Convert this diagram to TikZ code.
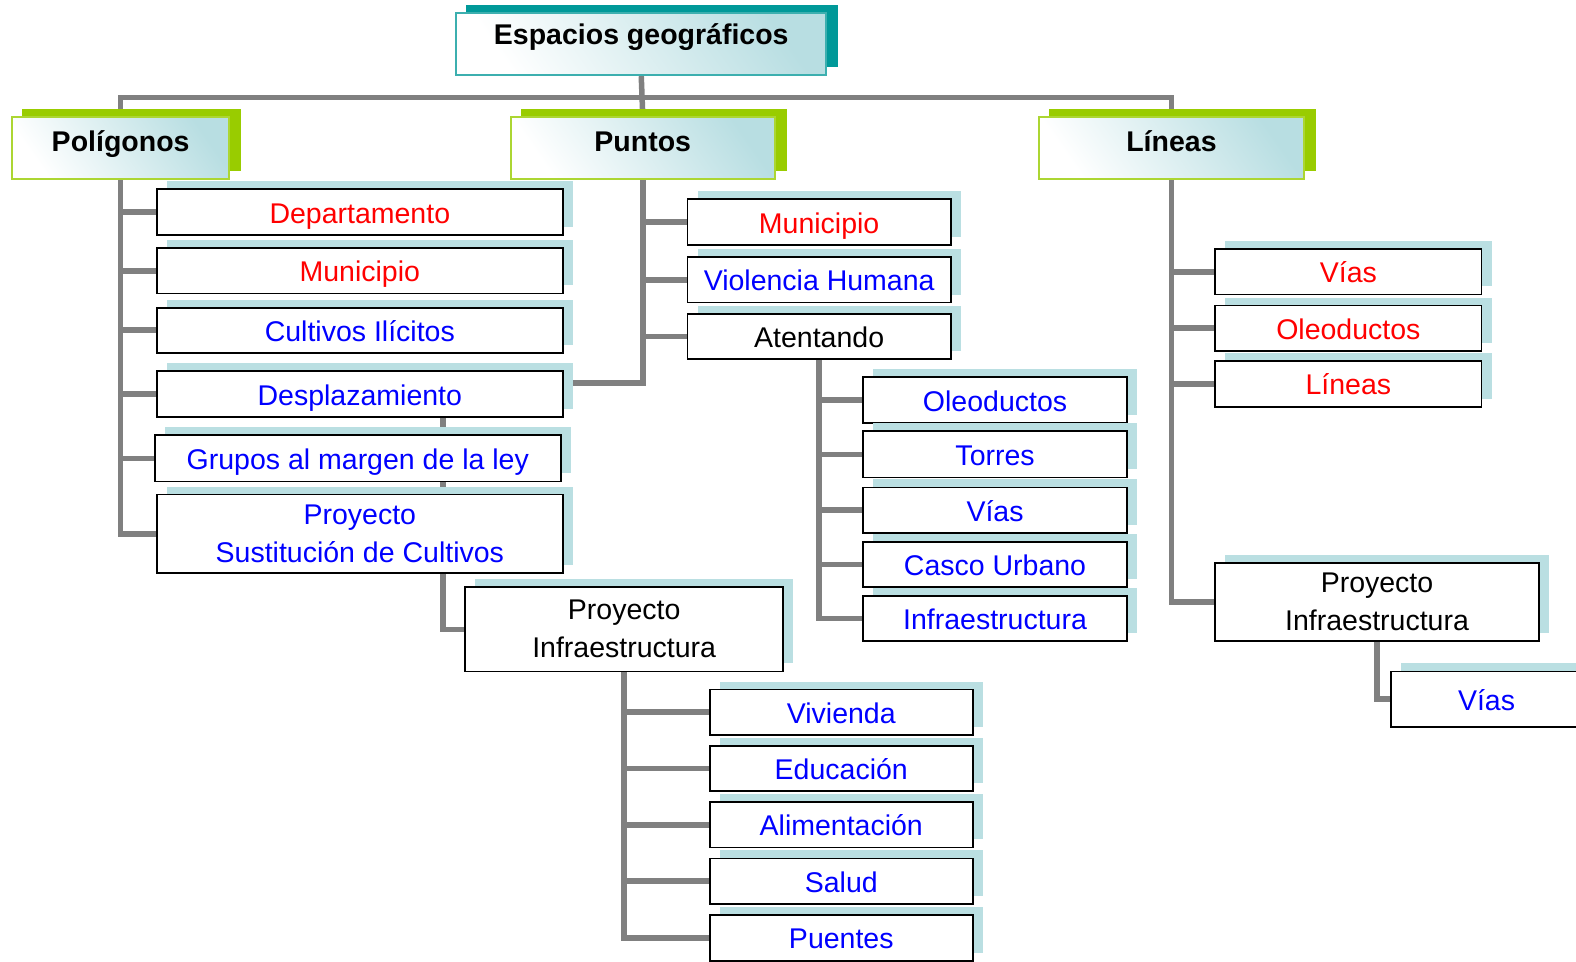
\documentclass[tikz,border=0pt]{standalone}
\usepackage{fontspec}
\setmainfont{Liberation Sans}
\usetikzlibrary{calc}
\definecolor{shadowcol}{RGB}{186,223,226}
\definecolor{conncol}{RGB}{128,128,128}
\definecolor{hgreen}{RGB}{153,204,0}
\definecolor{hgreenb}{RGB}{172,214,50}
\definecolor{tealsh}{RGB}{0,153,153}
\definecolor{tealb}{RGB}{60,175,175}
\definecolor{gradc}{RGB}{184,222,226}
\definecolor{tred}{RGB}{255,0,0}
\definecolor{tblue}{RGB}{0,0,255}
\pgfdeclarelayer{background}
\pgfsetlayers{background,main}
\tikzset{
  conn/.style={draw=conncol, line width=5.5pt},
  wbox/.style={draw=black, line width=1.8pt, fill=white, inner sep=0pt, font=\fontsize{28.5}{38}\selectfont},
  oneline/.style={text height=22pt, text depth=0pt},
  twoline/.style={align=center},
  rtxt/.style={oneline, text=tred},
  btxt/.style={oneline, text=tblue},
  hdr/.style={draw=hgreenb, line width=2pt, inner sep=0pt, top color=gradc, bottom color=white, shading angle=-55, font=\fontsize{28.5}{34}\selectfont\bfseries, text height=20pt, text depth=12pt},
}
\newcommand\wb[7]{%
  \fill[shadowcol] (#2+10,#3-8) rectangle (#4+10,#5-8);
  \node[wbox,#6,minimum width={(#4-#2)*1.0051pt},minimum height={(#5-#3)*1.0052pt}] (#1) at ({(#2+#4)/2},{(#3+#5)/2}) {#7};}
\newcommand\hb[8]{%
  \fill[#6] (#2+10,#3-8) rectangle (#4+12,#5-8);
  \node[hdr,#7,minimum width={(#4-#2)*1.0051pt},minimum height={(#5-#3)*1.0052pt}] (#1) at ({(#2+#4)/2},{(#3+#5)/2}) {#8};}
\begin{document}
\begin{tikzpicture}[x=1.0051pt,y=-1.0052pt]
\useasboundingbox (0,0) rectangle (1568,957);
\clip (0,0) rectangle (1568,957);
% headers
\hb{esp}{454}{13}{822}{75}{tealsh}{draw=tealb,text height=14pt,text depth=14pt}{Espacios geográficos}
\hb{pol}{12}{116}{228}{178}{hgreen}{}{Polígonos}
\hb{pun}{508}{116}{771}{178}{hgreen}{}{Puntos}
\hb{lin}{1034}{116}{1297}{178}{hgreen}{}{Líneas}
% Poligonos
\wb{pdep}{156}{188}{560}{234}{rtxt}{Departamento}
\wb{pmun}{156}{247}{560}{292}{rtxt}{Municipio}
\wb{pcul}{156}{306}{560}{351}{btxt}{Cultivos Ilícitos}
\wb{pdes}{156}{369}{560}{415}{btxt}{Desplazamiento}
\wb{pgru}{154}{433}{558}{479}{btxt}{Grupos al margen de la ley}
\wb{psus}{156}{492}{560}{570}{twoline,text=tblue}{Proyecto\\Sustitución de Cultivos}
% Puntos
\wb{umun}{684}{198}{946}{244}{rtxt}{Municipio}
\wb{uvio}{684}{256}{946}{301}{btxt}{Violencia Humana}
\wb{uate}{684}{312}{946}{357}{oneline}{Atentando}
\wb{aole}{859}{375}{1121}{421}{btxt}{Oleoductos}
\wb{ator}{859}{429}{1121}{475}{btxt}{Torres}
\wb{avia}{859}{485}{1121}{530}{btxt}{Vías}
\wb{acas}{859}{539}{1121}{584}{btxt}{Casco Urbano}
\wb{ainf}{859}{593}{1121}{638}{btxt}{Infraestructura}
% Proyecto Infraestructura
\wb{pinf}{463}{584}{779}{668}{twoline}{Proyecto\\Infraestructura}
\wb{iviv}{706}{686}{968}{731}{btxt}{Vivienda}
\wb{iedu}{706}{742}{968}{787}{btxt}{Educación}
\wb{iali}{706}{798}{968}{843}{btxt}{Alimentación}
\wb{isal}{706}{854}{968}{899}{btxt}{Salud}
\wb{ipue}{706}{910}{968}{956}{btxt}{Puentes}
% Lineas
\wb{lvia}{1209}{248}{1474}{293}{rtxt}{Vías}
\wb{lole}{1209}{304}{1474}{349}{rtxt}{Oleoductos}
\wb{llin}{1209}{359}{1474}{405}{rtxt}{Líneas}
\wb{linf}{1209}{560}{1531}{638}{twoline}{Proyecto\\Infraestructura}
\wb{lvid}{1384}{668}{1574}{723}{btxt}{Vías}
% connectors
\begin{pgfonlayer}{background}
\coordinate (bar) at (0,97);
\draw[conn] (esp.south) -- (pun.north);
\draw[conn] (esp.south) -- (esp.south |- bar) -| (pol.north);
\draw[conn] (esp.south) -- (esp.south |- bar) -| (lin.north);
\foreach \n in {pdep,pmun,pcul,pdes,pgru,psus} \draw[conn] (pol.south) |- (\n.west);
\foreach \n in {umun,uvio,uate} \draw[conn] (pun.south) |- (\n.west);
\draw[conn] ([yshift=11pt]pdes.east) -| (pun.south);
\draw[conn] ([xshift=83.4pt]pdes.south) |- (pinf.west);
\foreach \n in {aole,ator,avia,acas,ainf} \draw[conn] (uate.south) |- (\n.west);
\foreach \n in {iviv,iedu,iali,isal,ipue} \draw[conn] (pinf.south) |- (\n.west);
\foreach \n in {lvia,lole,llin,linf} \draw[conn] (lin.south) |- (\n.west);
\draw[conn] (linf.south) |- (lvid.west);
\end{pgfonlayer}
\end{tikzpicture}
\end{document}
